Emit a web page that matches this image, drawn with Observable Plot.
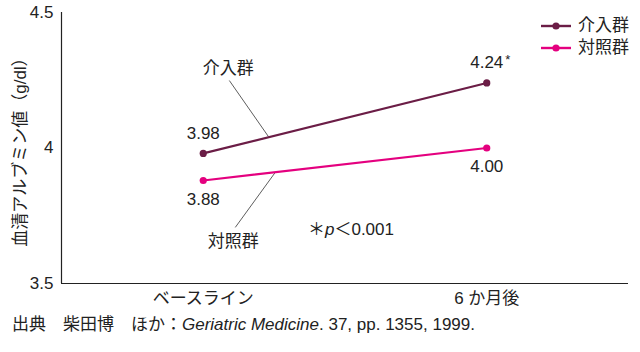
<!DOCTYPE html>
<html><head><meta charset="utf-8">
<script src="https://cdn.jsdelivr.net/npm/d3@7"></script>
<script src="https://cdn.jsdelivr.net/npm/@observablehq/plot@0.6"></script>
<style>
body{margin:0;background:#fff;}
#wrap{position:relative;width:640px;height:352px;overflow:hidden;font-family:"Liberation Sans","Noto Sans CJK JP",sans-serif;color:#222;}
#legend{position:absolute;left:540px;top:15px;font-size:17px;line-height:22px;}
#legend .row{display:flex;align-items:center;height:22px;}
#legend svg{margin-right:6px;}
#caption{position:absolute;left:12px;top:313px;font-size:17px;line-height:24px;white-space:nowrap;}
</style></head><body>
<div id="wrap"><div id="chart"></div><div id="legend"></div><div id="caption">出典　柴田博　ほか：<i>Geriatric Medicine</i>. 37, pp. 1355, 1999.</div></div>
<script>
const groups = ["介入群", "対照群"];
const periods = ["ベースライン", "6 か月後"];
const intervention = [3.98, 4.24];
const control = [3.88, 4.00];
const valueLabels = [["3.98", "4.24"], ["3.88", "4.00"]];
const colors = ["#6b1d46", "#e4007f"];
const yTicks = [3.5, 4, 4.5];
const yLabel = "血清アルブミン値（g/dl）";
const annLabels = [{text: "介入群", x: 0.088, y: 4.293}, {text: "対照群", x: 0.106, y: 3.656}];
const leaders = [{x1: 0.092, y1: 4.249, x2: 0.230, y2: 4.042}, {x1: 0.113, y1: 3.707, x2: 0.254, y2: 3.910}];
const pNote = [{text: "＊p＜0.001", x: 0.521, y: 3.699}];
const sigMark = [{text: "*", i: 1, v: 4.24}];

const series = [intervention, control];
const rows = [];
series.forEach((vals, g) => vals.forEach((v, i) => rows.push({group: groups[g], i, v, label: valueLabels[g][i], g})));

const font = '"Liberation Sans","Noto Sans CJK JP",sans-serif';
const chart = Plot.plot({
  width: 640, height: 312,
  marginLeft: 61, marginRight: 12, marginTop: 12, marginBottom: 29,
  style: {fontFamily: font, fontSize: "17px", color: "#222", background: "white"},
  x: {domain: [-0.5, 1.5], axis: null},
  y: {domain: [3.5, 4.5], axis: null},
  color: {domain: groups, range: colors},
  marks: [
    Plot.axisY({ticks: yTicks, tickSize: 0, tickPadding: 8, tickFormat: d => String(d), fontSize: 17,
      label: yLabel, labelAnchor: "center", labelArrow: "none", labelOffset: 48}),
    Plot.axisX({ticks: [0, 1], tickSize: 0, tickPadding: 8, tickFormat: i => periods[i], fontSize: 17, label: null}),
    Plot.ruleX([-0.5], {stroke: "#222", strokeWidth: 1.2}),
    Plot.ruleY([3.5], {stroke: "#222", strokeWidth: 1.2}),
    Plot.link(leaders, {x1: "x1", y1: "y1", x2: "x2", y2: "y2", stroke: "#333", strokeWidth: 0.8}),
    Plot.line(rows, {x: "i", y: "v", z: "group", stroke: "group", strokeWidth: 2.2}),
    Plot.dot(rows, {x: "i", y: "v", fill: "group", r: 3.6}),
    Plot.text(rows.filter(d => d.g === 0), {x: "i", y: "v", text: "label", dy: -20, fontSize: 17, fill: "#222"}),
    Plot.text(rows.filter(d => d.g === 1), {x: "i", y: "v", text: "label", dy: 19, fontSize: 17, fill: "#222"}),
    Plot.text(sigMark, {x: "i", y: "v", text: "text", dx: 21, dy: -23, fontSize: 13, fill: "#222"}),
    Plot.text(annLabels, {x: "x", y: "y", text: "text", fontSize: 17, fill: "#222"}),
    Plot.text(pNote, {x: "x", y: "y", text: "text", fontSize: 17, fill: "#222"})
  ]
});
document.getElementById("chart").appendChild(chart);

// italic p in the note
d3.select(chart).selectAll("text").filter(function() { return this.textContent === pNote[0].text; })
  .each(function() {
    const t = d3.select(this);
    t.text(null);
    t.append("tspan").text("＊");
    t.append("tspan").attr("font-style", "italic").text("p");
    t.append("tspan").text("＜0.001");
  });

// legend
const legend = d3.select("#legend");
groups.forEach((g, k) => {
  const row = legend.append("div").attr("class", "row");
  const s = row.append("svg").attr("width", 32).attr("height", 12);
  s.append("line").attr("x1", 1).attr("x2", 31).attr("y1", 6).attr("y2", 6).attr("stroke", colors[k]).attr("stroke-width", 2.4);
  s.append("circle").attr("cx", 16).attr("cy", 6).attr("r", 3.6).attr("fill", colors[k]);
  row.append("span").text(g);
});
</script>
</body></html>
